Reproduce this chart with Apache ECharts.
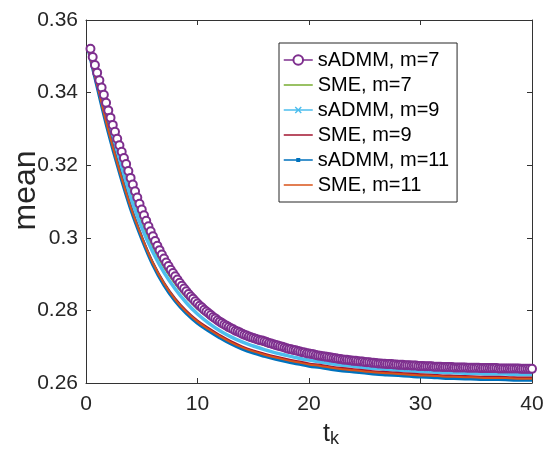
<!DOCTYPE html>
<html><head><meta charset="utf-8">
<script src="https://cdn.jsdelivr.net/npm/echarts/dist/echarts.min.js"></script>
<style>html,body{margin:0;padding:0;background:#fff}#c{width:546px;height:452px}</style>
</head><body><div id="c"></div>
<script>
// time grid of the circle-marked series
const tFine = [0.4,0.6,0.8,1,1.2,1.4,1.6,1.8,2,2.2,2.4,2.6,2.8,3,3.2,3.4,3.6,3.8,4,
4.2,4.4,4.6,4.8,5,5.2,5.4,5.6,5.8,6,6.2,6.4,6.6,6.8,7,7.2,7.4,7.6,7.8,8,
8.2,8.4,8.6,8.8,9,9.2,9.4,9.6,9.8,10,10.2,10.4,10.6,10.8,11,11.2,11.4,11.6,11.8,12,
12.2,12.4,12.6,12.8,13,13.2,13.4,13.6,13.8,14,14.2,14.4,14.6,14.8,15,15.2,15.4,15.6,15.8,16,
16.2,16.4,16.6,16.8,17,17.2,17.4,17.6,17.8,18,18.2,18.4,18.6,18.8,19,19.2,19.4,19.6,19.8,20,
20.2,20.4,20.6,20.8,21,21.2,21.4,21.6,21.8,22,22.2,22.4,22.6,22.8,23,23.2,23.4,23.6,23.8,24,
24.2,24.4,24.6,24.8,25,25.2,25.4,25.6,25.8,26,26.2,26.4,26.6,26.8,27,27.2,27.4,27.6,27.8,28,
28.2,28.4,28.6,28.8,29,29.2,29.4,29.6,29.8,30,30.2,30.4,30.6,30.8,31,31.2,31.4,31.6,31.8,32,
32.2,32.4,32.6,32.8,33,33.2,33.4,33.6,33.8,34,34.2,34.4,34.6,34.8,35,35.2,35.4,35.6,35.8,36,
36.2,36.4,36.6,36.8,37,37.2,37.4,37.6,37.8,38,38.2,38.4,38.6,38.8,39,39.2,39.4,39.6,39.8,40];
// sADMM, m=7
const sadmm7 = [0.3521,0.3498,0.3476,0.3455,0.3434,0.3414,0.3394,0.3372,0.3351,0.3331,0.3311,0.3292,0.3273,0.3255,0.3237,0.3220,0.3203,0.3184,0.3165,
0.3147,0.3128,0.3111,0.3094,0.3078,0.3062,0.3047,0.3032,0.3018,0.3004,0.2991,0.2978,0.2966,0.2954,0.2943,0.2932,0.2922,0.2912,0.2903,0.2894,
0.2885,0.2876,0.2868,0.2860,0.2853,0.2845,0.2838,0.2832,0.2825,0.2819,0.2813,0.2808,0.2802,0.2797,0.2792,0.2787,0.2782,0.2778,0.2773,0.2769,
0.2765,0.2761,0.2758,0.2754,0.2751,0.2748,0.2744,0.2742,0.2739,0.2736,0.2733,0.2731,0.2728,0.2726,0.2724,0.2722,0.2720,0.2718,0.2717,0.2715,
0.2713,0.2710,0.2709,0.2707,0.2705,0.2703,0.2701,0.2700,0.2698,0.2696,0.2694,0.2693,0.2691,0.2690,0.2688,0.2687,0.2685,0.2684,0.2682,0.2681,
0.2680,0.2679,0.2677,0.2676,0.2675,0.2674,0.2673,0.2672,0.2671,0.2670,0.2669,0.2668,0.2667,0.2666,0.2665,0.2664,0.2664,0.2663,0.2662,0.2661,
0.2661,0.2660,0.2659,0.2659,0.2658,0.2657,0.2657,0.2656,0.2656,0.2655,0.2654,0.2654,0.2653,0.2653,0.2652,0.2652,0.2652,0.2651,0.2651,0.2650,
0.2650,0.2650,0.2649,0.2649,0.2649,0.2648,0.2648,0.2648,0.2647,0.2647,0.2647,0.2646,0.2646,0.2646,0.2646,0.2645,0.2645,0.2645,0.2645,0.2644,
0.2644,0.2644,0.2644,0.2644,0.2643,0.2643,0.2643,0.2643,0.2643,0.2643,0.2642,0.2642,0.2642,0.2642,0.2642,0.2642,0.2641,0.2641,0.2641,0.2641,
0.2641,0.2641,0.2641,0.2641,0.2640,0.2640,0.2640,0.2640,0.2640,0.2640,0.2640,0.2640,0.2640,0.2640,0.2639,0.2639,0.2639,0.2639,0.2639,0.2639];
// time grid of the other series
const tCoarse = [0.2,1,2,3,4,5,6,7,8,9,10,11,12,13,14,15,16,17,18,19,20,
21,22,23,24,25,26,27,28,29,30,31,32,33,34,35,36,37,38,39,40];
const sme7 = [0.3526,0.3440,0.3326,0.3222,0.3127,0.3042,0.2974,0.2918,0.2873,0.2835,0.2804,0.2779,0.2758,0.2741,0.2726,0.2714,0.2704,0.2696,0.2688,0.2681,0.2674,
0.2669,0.2664,0.2660,0.2656,0.2653,0.2650,0.2648,0.2645,0.2644,0.2642,0.2641,0.2639,0.2638,0.2637,0.2637,0.2636,0.2635,0.2635,0.2634,0.2634];
const sadmm9 = [0.3525,0.3434,0.3315,0.3209,0.3112,0.3028,0.2960,0.2904,0.2859,0.2821,0.2790,0.2765,0.2744,0.2727,0.2713,0.2702,0.2692,0.2683,0.2676,0.2669,0.2663,
0.2658,0.2653,0.2649,0.2646,0.2642,0.2640,0.2637,0.2635,0.2633,0.2632,0.2630,0.2629,0.2628,0.2627,0.2626,0.2625,0.2625,0.2624,0.2623,0.2623];
const sme9 = [0.3524,0.3424,0.3299,0.3188,0.3088,0.3005,0.2933,0.2877,0.2833,0.2799,0.2772,0.2751,0.2732,0.2715,0.2701,0.2690,0.2681,0.2673,0.2666,0.2660,0.2654,
0.2650,0.2645,0.2641,0.2638,0.2635,0.2632,0.2630,0.2628,0.2626,0.2624,0.2623,0.2621,0.2620,0.2619,0.2618,0.2617,0.2617,0.2616,0.2615,0.2615];
const sadmm11 = [0.3521,0.3417,0.3292,0.3181,0.3081,0.2998,0.2926,0.2870,0.2826,0.2792,0.2765,0.2744,0.2725,0.2708,0.2694,0.2683,0.2674,0.2666,0.2659,0.2653,0.2647,
0.2643,0.2638,0.2634,0.2631,0.2628,0.2625,0.2623,0.2621,0.2619,0.2617,0.2616,0.2614,0.2613,0.2612,0.2611,0.2610,0.2610,0.2609,0.2608,0.2608];
const sme11 = [0.3521,0.3421,0.3296,0.3185,0.3085,0.3002,0.2930,0.2874,0.2830,0.2796,0.2769,0.2748,0.2729,0.2712,0.2698,0.2687,0.2678,0.2670,0.2663,0.2657,0.2651,
0.2647,0.2642,0.2638,0.2635,0.2632,0.2629,0.2627,0.2625,0.2623,0.2621,0.2620,0.2618,0.2617,0.2616,0.2615,0.2614,0.2614,0.2613,0.2612,0.2612];

const names = ['sADMM, m=7','SME, m=7','sADMM, m=9','SME, m=9','sADMM, m=11','SME, m=11'];
const colors = ['#7E2F8E','#77AC30','#4DBEEE','#A2142F','#0072BD','#D95319'];
const xTicks = {min:0, max:40, interval:10};
const yTicks = {min:0.26, max:0.36, interval:0.02};

const FONT = '"Liberation Sans", Arial, Helvetica, sans-serif';
const AX = '#333';
const pair = (xs, ys) => xs.map((x,i)=>[x, ys[i]]);
// legend glyphs (line, line + x, line + small square)
const LINE = 'M0,0 M29,12 M0,5.25 L29,5.25 L29,6.75 L0,6.75 Z';
const iconLine = 'path://' + LINE;
const iconX = 'path://' + LINE + ' M11,3.5 L12,2.5 L14.5,5 L17,2.5 L18,3.5 L15.5,6 L18,8.5 L17,9.5 L14.5,7 L12,9.5 L11,8.5 L13.5,6 Z';
const iconSq = 'path://' + LINE + ' M12.5,4 L16.5,4 L16.5,8 L12.5,8 Z';

const chart = echarts.init(document.getElementById('c'), null, {renderer:'canvas'});
const baseX = {type:'value', min:xTicks.min, max:xTicks.max, interval:xTicks.interval,
  axisLine:{show:true, onZero:false, lineStyle:{color:AX, width:1}},
  axisTick:{show:true, inside:true, length:5, lineStyle:{color:AX}},
  splitLine:{show:false}};
const baseY = {type:'value', min:yTicks.min, max:yTicks.max, interval:yTicks.interval,
  axisLine:{show:true, onZero:false, lineStyle:{color:AX, width:1}},
  axisTick:{show:true, inside:true, length:5, lineStyle:{color:AX}},
  splitLine:{show:false}};

chart.setOption({
  animation:false,
  backgroundColor:'#fff',
  grid:{left:86, right:14, top:20, bottom:69, containLabel:false, outerBoundsMode:'none'},
  xAxis:[
    Object.assign({}, baseX, {position:'bottom',
      axisLabel:{show:true, margin:11, fontSize:21, color:'#262626', fontFamily:FONT},
      name:'{t|t}{k|k}', nameLocation:'middle', nameGap:39, nameMoveOverlap:false,
      nameTextStyle:{fontFamily:FONT, color:'#262626', padding:[0,0,0,44], rich:{
        t:{fontSize:25, fontFamily:FONT, color:'#262626', verticalAlign:'top', lineHeight:26},
        k:{fontSize:18, fontFamily:FONT, color:'#262626', verticalAlign:'bottom', lineHeight:18, padding:[29,0,0,0]}
      }}}),
    Object.assign({}, baseX, {position:'top', axisLabel:{show:false}})
  ],
  yAxis:[
    Object.assign({}, baseY, {position:'left',
      axisLabel:{show:true, margin:8, fontSize:21, color:'#262626', fontFamily:FONT},
      name:'mean', nameLocation:'middle', nameGap:44, nameMoveOverlap:false,
      nameTextStyle:{fontSize:32, fontFamily:FONT, color:'#262626', padding:[0,0,0,22]}}),
    Object.assign({}, baseY, {position:'right', axisLabel:{show:false}})
  ],
  legend:{
    orient:'vertical', left:279, top:43,
    padding:[7,8,7,4], itemGap:5, itemWidth:29, itemHeight:12,
    backgroundColor:'#fff', borderColor:'#262626', borderWidth:1, borderRadius:0,
    textStyle:{fontSize:20, fontFamily:FONT, color:'#000', lineHeight:20},
    lineStyle:{width:1.5},
    data:[
      {name:names[0]},
      {name:names[1], icon:iconLine},
      {name:names[2], icon:iconX},
      {name:names[3], icon:iconLine},
      {name:names[4], icon:iconSq},
      {name:names[5], icon:iconLine}
    ]
  },
  series:[
    {name:names[0], type:'line', data:pair(tFine, sadmm7), color:colors[0],
     symbol:'emptyCircle', symbolSize:8, showSymbol:true,
     lineStyle:{width:1, color:colors[0]}, itemStyle:{color:colors[0], borderWidth:0.9}},
    {name:names[1], type:'line', data:pair(tCoarse, sme7), color:colors[1], smooth:0.4,
     symbol:'none', lineStyle:{width:2, color:colors[1]}},
    {name:names[2], type:'line', data:pair(tCoarse, sadmm9), color:colors[2], smooth:0.4,
     symbol:'none', lineStyle:{width:3.5, color:colors[2]}},
    {name:names[3], type:'line', data:pair(tCoarse, sme9), color:colors[3], smooth:0.4,
     symbol:'none', lineStyle:{width:2, color:colors[3]}},
    {name:names[4], type:'line', data:pair(tCoarse, sadmm11), color:colors[4], smooth:0.4,
     symbol:'none', lineStyle:{width:3.5, color:colors[4]}},
    {name:names[5], type:'line', data:pair(tCoarse, sme11), color:colors[5], smooth:0.4,
     symbol:'none', lineStyle:{width:2, color:colors[5]}}
  ]
});
</script></body></html>
